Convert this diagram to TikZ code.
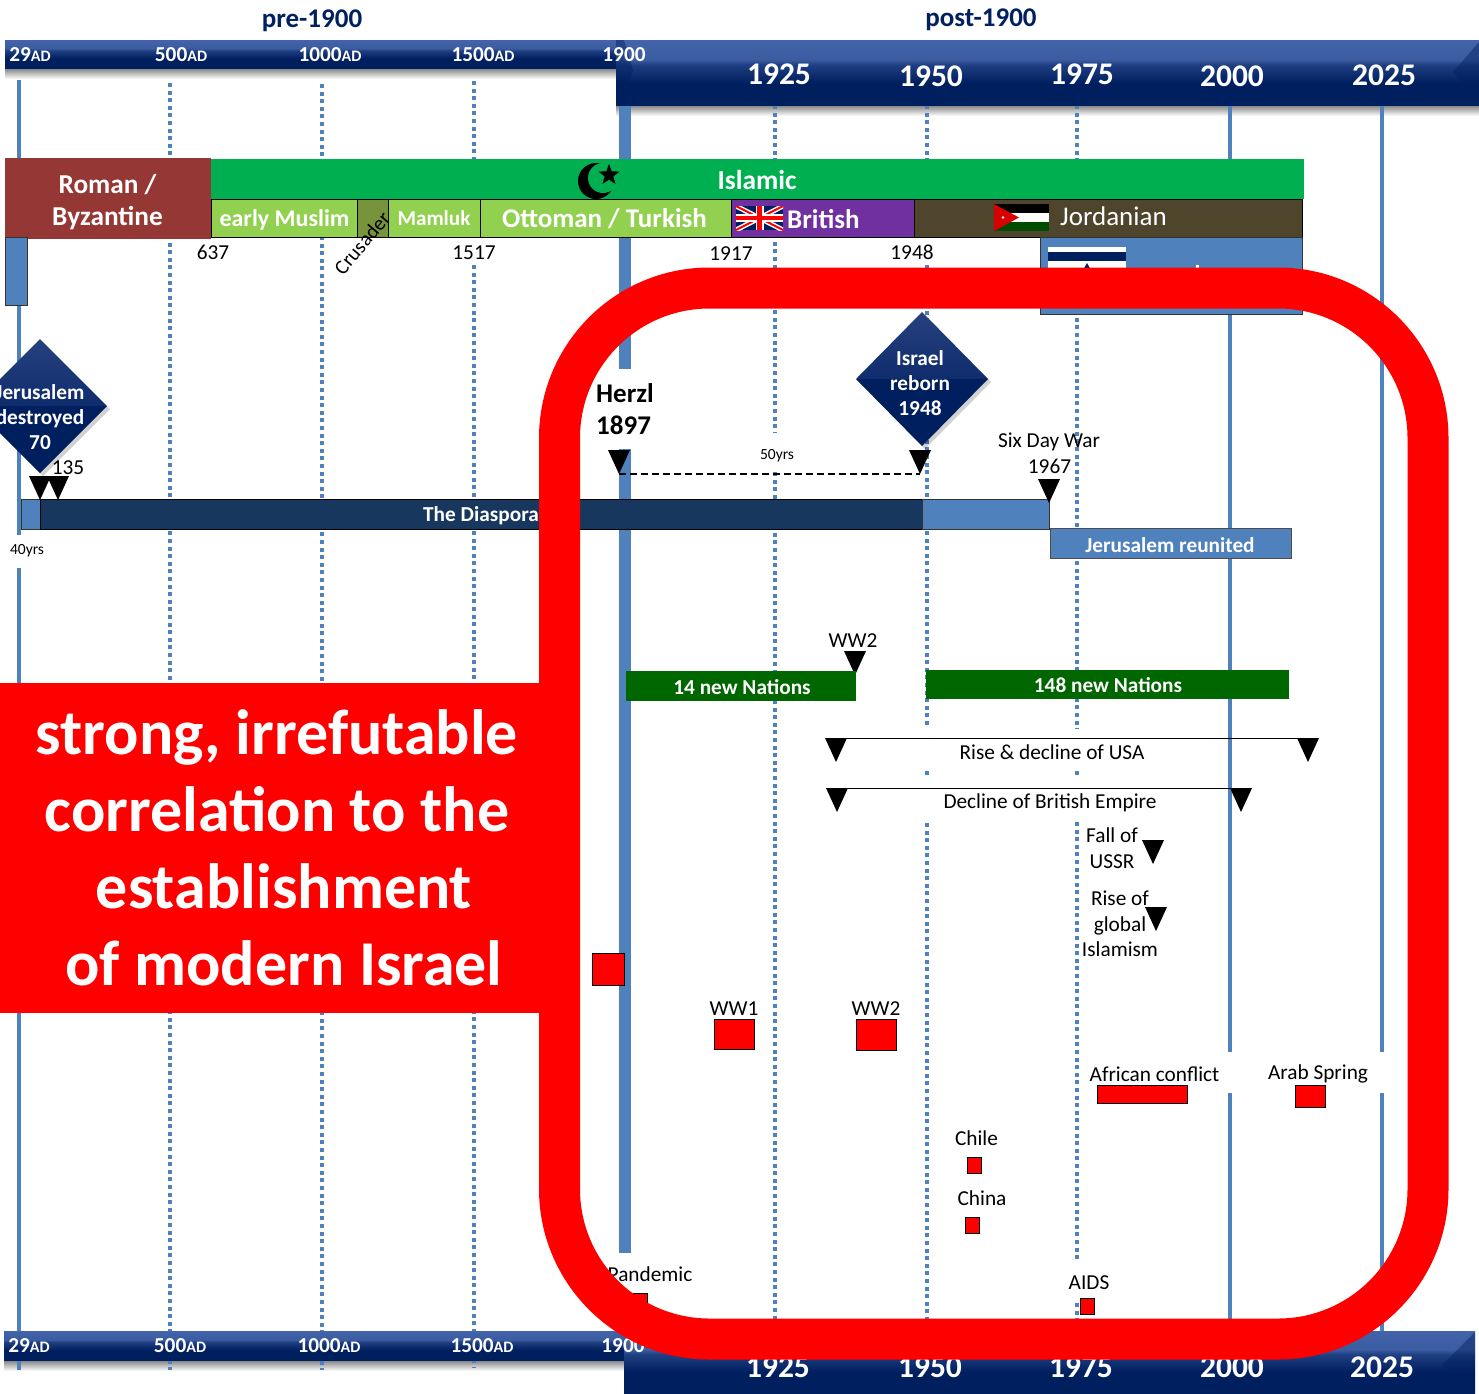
\documentclass[tikz,border=0pt]{standalone}
\usepackage{fontspec}
\setmainfont{Carlito}
\usetikzlibrary{shapes.geometric,shadows}
\definecolor{navy}{HTML}{001F5F}
\definecolor{gridblue}{HTML}{4F81BD}
\definecolor{framered}{HTML}{FF0000}
\definecolor{romanred}{HTML}{953735}
\definecolor{islamgreen}{HTML}{00B050}
\definecolor{lightgreen}{HTML}{92D050}
\definecolor{crusgreen}{HTML}{77933C}
\definecolor{britpurple}{HTML}{7030A0}
\definecolor{jordbrown}{HTML}{4F452C}
\definecolor{diaspora}{HTML}{17375E}
\definecolor{nationgreen}{HTML}{006600}
\definecolor{headblue}{HTML}{002060}
\definecolor{barA}{HTML}{2F4F90}
\definecolor{barB}{HTML}{1F3F82}
\definecolor{barC}{HTML}{3C5CA2}
\definecolor{barD}{HTML}{4A6CB2}
\definecolor{barE}{HTML}{2F5597}
\definecolor{diaTop}{HTML}{27417F}
\definecolor{diaMid}{HTML}{0F2C6C}
\pgfdeclareverticalshading{barshade}{100bp}{
  color(0bp)=(barA);color(4bp)=(navy);color(42bp)=(navy);color(56bp)=(barB);color(60bp)=(barC);color(92bp)=(barD);color(97bp)=(barD);color(100bp)=(barE)}
\newcommand{\fsz}[1]{\fontsize{#1pt}{#1pt}\selectfont}
\tikzset{
  solidgrid/.style={draw=gridblue,line width=3.4pt},
  thickgrid/.style={draw=gridblue,line width=12pt},
  dotgrid/.style={draw=gridblue,line width=3.2pt,dash pattern=on 4pt off 3.6pt},
  barbox/.style={shading=barshade,draw=none},
  barshadow/.style={top color=black!50,bottom color=white,draw=none},
  lab/.style={font=\fsz{21.3},text=black,inner sep=0pt,align=center},
  whitelab/.style={font=\fsz{21.3}\bfseries,text=white,inner sep=0pt,align=center},
  tickL/.style={font=\fsz{21.3}\bfseries,text=white,inner sep=0pt,anchor=base},
  tickR/.style={font=\fsz{31.5}\bfseries,text=white,inner sep=0pt,anchor=base},
  claimline/.style={font=\fsz{64}\bfseries,text=white,inner sep=0pt,anchor=base},
  era/.style={draw=black,line width=1pt},
  redbox/.style={fill=framered,draw=black,line width=.8pt},
  bluebox/.style={fill=gridblue,draw=black!80,line width=1pt},
  tip/.style={fill=black,draw=none},
  bevel/.style={fill=navy,opacity=.45,draw=none},
}
\newcommand{\tri}[3]{\coordinate (#1) at (#2,#3);\fill[tip] (#2-11,#3) -- (#2+11,#3) -- (#2,#3+24) -- cycle;}
\newcommand{\diam}[4]{% cx cy half-w half-h
  \fill[black,opacity=.18] (#1+3,#2-#4+3) -- (#1+#3+3,#2+3) -- (#1+3,#2+#4+3) -- (#1-#3+3,#2+3) -- cycle;
  \shade[top color=diaTop,bottom color=diaMid] (#1,#2-#4) -- (#1+#3,#2) -- (#1-#3,#2) -- cycle;
  \fill[navy] (#1-#3,#2) -- (#1+#3,#2) -- (#1,#2+#4) -- cycle;}
\begin{document}
\begin{tikzpicture}[x=1pt,y=-1pt]
\useasboundingbox[clip] (0,0) rectangle (1479,1393);
\fill[white] (0,0) rectangle (1479,1393);

% bar shadows
\fill[barshadow] (5,68) rectangle (625,79);
\fill[barshadow] (616,105) rectangle (1479,116);
\fill[barshadow] (4,1360) rectangle (625,1371);

% grid lines
\draw[solidgrid] (19,80) -- (19,535) (19,568) -- (19,1370);
\draw[dotgrid] (170,83) -- (170,1370);
\draw[dotgrid] (322,84) -- (322,1370);
\draw[dotgrid] (474,81) -- (474,240) (474,265) -- (474,1368);
\draw[thickgrid] (625,100) -- (625,369) (625,449) -- (625,1253);
\draw[dotgrid] (775,105) -- (775,433) (775,472) -- (775,1320);
\draw[dotgrid] (927,105) -- (927,240) (927,265) -- (927,727) (927,771) -- (927,778) (927,823) -- (927,1320);
\draw[dotgrid] (1077,105) -- (1077,729) (1077,771) -- (1077,777) (1077,822) -- (1077,1260) (1077,1303) -- (1077,1320);
\draw[solidgrid] (1230,105) -- (1230,1052) (1230,1093) -- (1230,1320);
\draw[solidgrid] (1382,105) -- (1382,1052) (1382,1093) -- (1382,1332);

% headings
\node[font=\fsz{27}\bfseries,text=headblue,inner sep=0pt] (pre) at (312,21) {pre-1900};
\node[font=\fsz{27}\bfseries,text=headblue,inner sep=0pt] (post) at (981,20) {post-1900};

% bars
\shade[barbox] (5,40) rectangle (625,68);
\shade[barbox] (616,40) rectangle (1479,105);
\fill[bevel] (616,40) -- (624,40) -- (633,70) -- (624,98) -- (616,105) -- cycle;
\fill[bevel] (1479,42) -- (1453,72) -- (1479,100) -- cycle;
\shade[barbox] (4,1331) rectangle (625,1360);
\shade[barbox] (624,1331) rectangle (1475,1393);
\fill[bevel] (1475,1332) -- (1442,1365) -- (1475,1393) -- cycle;
\foreach \n/\x/\t in {tl1/30/29,tl2/181/500,tl3/330/1000,tl4/483/1500}{
  \node[tickL] (\n) at (\x,61.5) {\t{\fsz{16}AD}};
}
\node[tickL] (tl5) at (624,61.5) {1900};
\foreach \n/\x/\t in {bl1/29/29,bl2/180/500,bl3/329/1000,bl4/482/1500}{
  \node[tickL] (\n) at (\x,1352.5) {\t{\fsz{16}AD}};
}
\node[tickL] (bl5) at (623,1352.5) {1900};
\foreach \n/\x/\y/\t in {tr1/779/84/1925,tr2/931/86/1950,tr3/1082/84/1975,tr4/1232/86/2000,tr5/1384/85/2025,
  br1/778/1377/1925,br2/930/1377/1950,br3/1081/1377/1975,br4/1232/1377/2000,br5/1382/1377/2025}{
  \node[tickR] (\n) at (\x,\y) {\t};
}

% era bars
\fill[islamgreen] (211,159) rectangle (1304,199);
\node[font=\fsz{27.4}\bfseries,text=white,inner sep=0pt] (islamic) at (757,179.5) {Islamic};
\draw[era,fill=lightgreen] (211,199) rectangle (357,237);
\draw[era,fill=crusgreen] (357,199) rectangle (388,237);
\draw[era,fill=lightgreen] (388,199) rectangle (480,237);
\draw[era,fill=lightgreen] (480,199) rectangle (731,237);
\draw[era,fill=britpurple] (731,199) rectangle (914,237);
\draw[era,fill=jordbrown] (914,199) rectangle (1302,237);
\fill[romanred] (5,158) rectangle (211,239);
\node[font=\fsz{27.3}\bfseries,text=white,inner sep=0pt,align=center] (roman) at (107.5,202) {Roman /\\[5pt]Byzantine};
\node[font=\fsz{24}\bfseries,text=white,inner sep=0pt] (early) at (284.5,220) {early Muslim};
\node[font=\fsz{21.2}\bfseries,text=white,inner sep=0pt] (mamluk) at (434,218.5) {Mamluk};
\node[font=\fsz{27}\bfseries,text=white,inner sep=0pt] (ottoman) at (604.5,219) {Ottoman / Turkish};
\node[font=\fsz{27}\bfseries,text=white,inner sep=0pt,anchor=west] (british) at (787,219) {British};
\node[font=\fsz{27},text=white,inner sep=0pt,anchor=west] (jordanian) at (1060,216) {Jordanian};
\node[font=\fsz{20.5},rotate=50,inner sep=0pt] (crusader) at (362,243) {Crusader};

% crescent
\fill[black] (596,181) circle (18);
\fill[islamgreen] (603,178) circle (15);
\node[star,star points=5,star point ratio=2.4,fill=black,inner sep=0pt,minimum size=22pt] (crstar) at (609,175) {};

% UK flag
\begin{scope}
\clip (736,206) rectangle (783,230);
\fill[navy] (736,206) rectangle (783,230);
\draw[white,line width=5pt] (736,206) -- (783,230) (736,230) -- (783,206);
\draw[red,line width=2pt] (736,206) -- (783,230) (736,230) -- (783,206);
\draw[white,line width=8pt] (759.5,206) -- (759.5,230) (736,218) -- (783,218);
\draw[red,line width=4.5pt] (759.5,206) -- (759.5,230) (736,218) -- (783,218);
\end{scope}

% Jordan flag
\fill[black] (994,204) rectangle (1049,213);
\fill[white] (994,213) rectangle (1049,222);
\fill[black!40!green!50!black] (994,222) rectangle (1049,231);
\fill[red!85!black] (994,204) -- (1019,217.5) -- (994,231) -- cycle;
\fill[white] (1003,217.5) circle (1.4);

% labels below eras
\node[lab] (n637) at (213,252.5) {637};
\node[lab] (n1517) at (474,252.5) {1517};
\node[lab] (n1917) at (731,253.5) {1917};
\node[lab] (n1948) at (912,252.5) {1948};

% blue boxes
\draw[bluebox] (5,237) rectangle (27,305);
\draw[bluebox] (1040,237) rectangle (1302,314);
\fill[white] (1048,247) rectangle (1126,290);
\fill[navy] (1048,252) rectangle (1126,261);
\fill[navy] (1087,263) -- (1082,272) -- (1092,272) -- cycle;
\fill[white] (1196,265) rectangle (1198.5,270);

% Diaspora row
\draw[bluebox] (21,499) rectangle (40,529);
\draw[draw=black,line width=1pt,fill=diaspora] (40,499) rectangle (922,529);
\draw[bluebox] (922,499) rectangle (1049,529);
\node[font=\fsz{21.3}\bfseries,text=white,inner sep=0pt] (diasp) at (481,515.5) {The Diaspora};
\draw[fill=gridblue,draw=black!70,line width=.8pt] (1050,528) rectangle (1291,558);
\node[font=\fsz{21.3}\bfseries,text=white,inner sep=0pt] (reunited) at (1170,545) {Jerusalem reunited};

% diamonds
\diam{40}{406}{67}{67}
\diam{922}{379}{66}{67}
\node[whitelab,font=\fsz{21.3}\bfseries] (jd) at (40,417) {Jerusalem\\[4pt]destroyed\\[4pt]70};
\node[whitelab] (ir) at (920,383) {Israel\\[4pt]reborn\\[4pt]1948};
\node[lab] (n135) at (68,468) {135};
\node[font=\fsz{15.5},inner sep=0pt] (y40) at (27,551) {40yrs};

% triangles
\tri{ta}{40}{476}
\tri{tb}{58}{476}
\tri{tc}{619}{450}
\tri{td}{920}{450}
\tri{te}{1049}{479}
\tri{tf}{855}{651}
\tri{tg}{836}{738}
\tri{th}{1308}{738}
\tri{ti}{837}{788}
\tri{tj}{1241}{788}
\tri{tk}{1153}{840}
\tri{tl}{1156}{907}

\node[font=\fsz{27}\bfseries,inner sep=0pt,align=left,anchor=west] (herzl) at (596,409) {Herzl\\[5pt]1897};
\node[font=\fsz{15.5},inner sep=0pt] (y50) at (777,456) {50yrs};
\coordinate (dashA) at (619,474);
\coordinate (dashB) at (920,474);
\draw[black,line width=1.5pt,dash pattern=on 7pt off 4pt] (dashA) -- (dashB);
\node[lab,align=center] (six) at (1049,453.5) {Six Day War\\[5pt]\hspace*{1pt}1967};

% nations
\fill[nationgreen] (626,671) rectangle (856,701);
\fill[nationgreen] (926,670) rectangle (1289,699);
\node[whitelab] (nat14) at (742,687.5) {14 new Nations};
\node[whitelab] (nat148) at (1108,685.5) {148 new Nations};
\node[lab] (ww2a) at (853,640.5) {WW2};

% decline lines
\coordinate (riseA) at (847,738);
\coordinate (riseB) at (1297,738);
\coordinate (declA) at (848,788);
\node[lab] (rise) at (1052,752) {Rise \& decline of USA};
\node[lab] (decl) at (1050,802.5) {Decline of British Empire};
\draw[black,line width=.8pt] (riseA) -- (riseB);
\draw[black,line width=.8pt] (declA) -- (tj);
\node[lab] (ussr) at (1112,848.5) {Fall of\\[5pt]USSR};
\node[lab] (islam) at (1120,924) {Rise of\\[4pt]global\\[4pt]Islamism};

% events
\node[lab] (ww1) at (734,1009) {WW1};
\node[lab] (ww2b) at (876,1009) {WW2};
\node[lab] (afr) at (1154.5,1074) {African conflict};
\node[lab] (arab) at (1318,1074) {Arab Spring};
\node[lab] (chile) at (976.5,1138.5) {Chile};
\node[lab] (china) at (982,1198.5) {China};
\node[lab] (pand) at (650,1274.5) {Pandemic};
\node[lab] (aids) at (1089,1283) {AIDS};
\draw[redbox] (592,953) rectangle (624,985);
\draw[redbox] (714,1019) rectangle (754,1049);
\draw[redbox] (856,1019) rectangle (896,1050);
\draw[redbox] (1097,1085) rectangle (1187,1103);
\draw[redbox] (1295,1085) rectangle (1325,1107);
\draw[redbox] (967,1157) rectangle (981,1173);
\draw[redbox] (965,1217) rectangle (979,1233);
\draw[redbox] (633,1293) rectangle (647,1320);
\draw[redbox] (1080,1298) rectangle (1094,1314);

% red overlay
\draw[framered,line width=41pt,rounded corners=150pt] (559.5,288) rectangle (1428,1339);
\fill[framered] (0,683) rectangle (560,1013);
\node[claimline] (claim1) at (277,754) {strong, irrefutable};
\node[claimline] (claim2) at (277,831) {correlation to the};
\node[claimline] (claim3) at (284,908) {establishment};
\node[claimline] (claim4) at (284,985) {of modern Israel};
\end{tikzpicture}
\end{document}
